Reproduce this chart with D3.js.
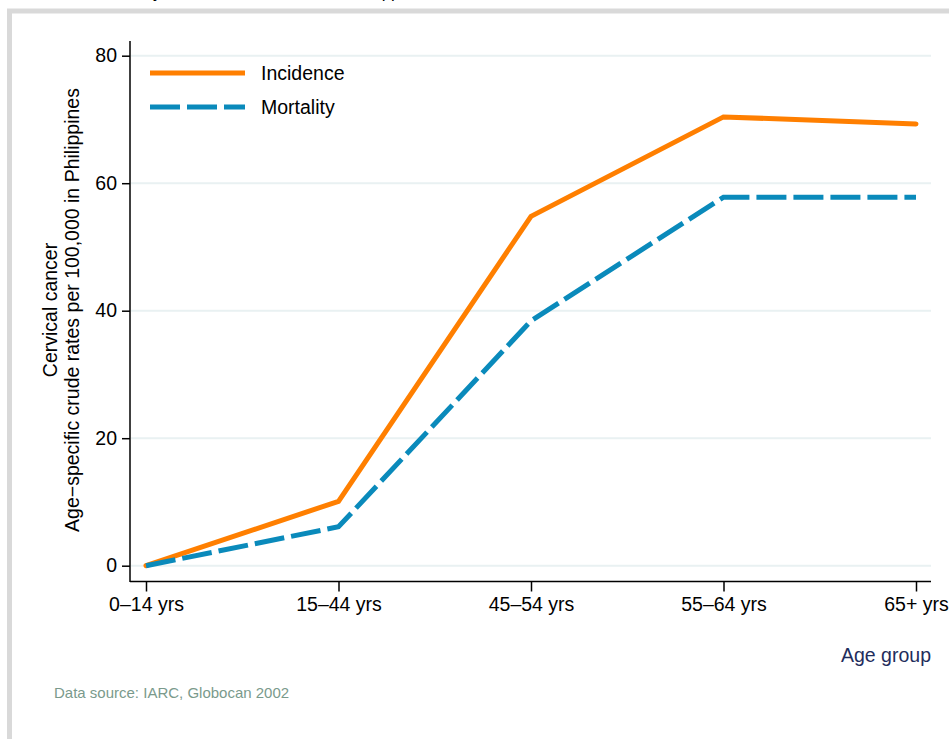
<!DOCTYPE html>
<html><head><meta charset="utf-8">
<script src="https://cdn.jsdelivr.net/npm/d3@7"></script>
<style>body{margin:0;background:#fff}svg{display:block;font-family:"Liberation Sans",Arial,sans-serif}</style>
</head><body><svg id="c" width="949" height="739"></svg>
<script>
const categories = ["0\u201314 yrs","15\u201344 yrs","45\u201354 yrs","55\u201364 yrs","65+ yrs"];
const incidence = [0, 10.1, 54.8, 70.4, 69.3];
const mortality = [0, 6.1, 38.4, 57.8, 57.8];
const yTicks = [0, 20, 40, 60, 80];
const seriesNames = ["Incidence", "Mortality"];

const FS = 19.5;
const svg = d3.select("#c");
// outer frame
svg.append("rect").attr("x",9.5).attr("y",11).attr("width",1000).attr("height",800)
  .attr("fill","none").attr("stroke","#d9d9d9").attr("stroke-width",5);

// title (cut off at top edge, as in the reference)
const title = svg.append("text").attr("y",-2).attr("font-size",17).attr("fill","#000")
  .text("Incidence and mortality of cervical cancer in the Philippines");
try{
  const idx = title.text().indexOf("y");
  const p = title.node().getStartPositionOfChar(idx).x;
  title.attr("x", 153 - p);
}catch(e){ title.attr("x",0); }

const x = d3.scalePoint().domain(categories).range([146, 916]);
const y = d3.scaleLinear().domain([0, 80]).range([565.7, 55.7]);

// gridlines
svg.append("g").selectAll("line").data(yTicks).join("line")
  .attr("x1",131).attr("x2",931).attr("y1",d=>y(d)).attr("y2",d=>y(d))
  .attr("stroke","#e9f1f2").attr("stroke-width",2);

// y axis
const ya = svg.append("g").attr("transform","translate(130,0)")
  .call(d3.axisLeft(y).tickValues(yTicks).tickSize(8).tickPadding(5));
ya.select(".domain").attr("d","M0,41V582").attr("stroke","#000").attr("stroke-width",1.5);
ya.selectAll(".tick line").attr("stroke","#000").attr("stroke-width",1.5);
ya.selectAll(".tick text").attr("font-size",FS).attr("fill","#000").attr("font-family","Liberation Sans, Arial");

// x axis
const xa = svg.append("g").attr("transform","translate(0,581.5)")
  .call(d3.axisBottom(x).tickSize(10).tickPadding(6));
xa.select(".domain").attr("d","M130,0H931").attr("stroke","#000").attr("stroke-width",1.5);
xa.selectAll(".tick line").attr("stroke","#000").attr("stroke-width",1.5);
xa.selectAll(".tick text").attr("font-size",FS).attr("fill","#000").attr("font-family","Liberation Sans, Arial");

// axis titles
svg.append("text").attr("x",931).attr("y",662).attr("text-anchor","end")
  .attr("font-size",FS).attr("fill","#1f2d5c").text("Age group");
const yt = svg.append("text").attr("transform","translate(0,310) rotate(-90)")
  .attr("text-anchor","middle").attr("font-size",FS).attr("fill","#000");
yt.append("tspan").attr("x",0).attr("y",57).text("Cervical cancer");
yt.append("tspan").attr("x",0).attr("y",79).text("Age\u2212specific crude rates per 100,000 in Philippines");

// lines
const line = d3.line().x((d,i)=>x(categories[i])).y(d=>y(d));
svg.append("path").datum(incidence).attr("d",line).attr("fill","none")
  .attr("stroke","#ff7f00").attr("stroke-width",5).attr("stroke-linejoin","miter").attr("stroke-linecap","round");
svg.append("path").datum(mortality).attr("d",line).attr("fill","none")
  .attr("stroke","#0a8abb").attr("stroke-width",5).attr("stroke-dasharray","30,7").attr("stroke-linejoin","miter");

// legend
const lg = svg.append("g");
const lgY = [73, 107];
lg.append("line").attr("x1",150).attr("x2",245).attr("y1",lgY[0]).attr("y2",lgY[0])
  .attr("stroke","#ff7f00").attr("stroke-width",5);
lg.append("line").attr("x1",150).attr("x2",245).attr("y1",lgY[1]).attr("y2",lgY[1])
  .attr("stroke","#0a8abb").attr("stroke-width",5).attr("stroke-dasharray","30,7");
lg.selectAll("text").data(seriesNames).join("text")
  .attr("x",261).attr("y",(d,i)=>lgY[i]+7).attr("font-size",FS).attr("fill","#000").text(d=>d);

// note
svg.append("text").attr("x",54).attr("y",698).attr("font-size",15).attr("fill","#7a9a8c")
  .text("Data source: IARC, Globocan 2002");
</script></body></html>
